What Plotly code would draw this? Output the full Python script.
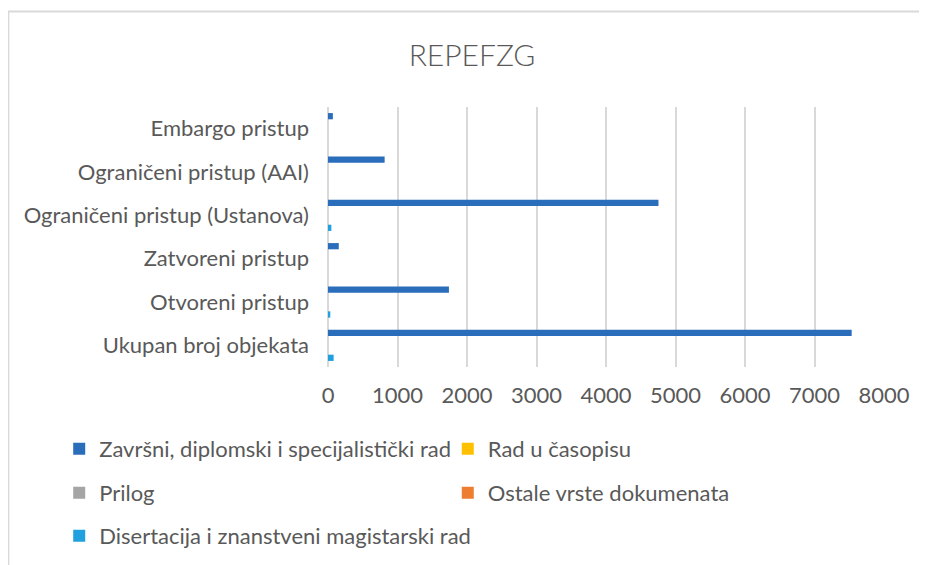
import plotly.graph_objects as go

title_text = "REPEFZG"
categories = [
    "Ukupan broj objekata",
    "Otvoreni pristup",
    "Zatvoreni pristup",
    "Ograničeni pristup (Ustanova)",
    "Ograničeni pristup (AAI)",
    "Embargo pristup",
]
series_names = [
    "Završni, diplomski i specijalistički rad",
    "Rad u časopisu",
    "Prilog",
    "Ostale vrste dokumenata",
    "Disertacija i znanstveni magistarski rad",
]
zavrsni = [7535, 1740, 155, 4755, 815, 70]
rad_u_casopisu = [0, 0, 0, 0, 0, 0]
prilog = [0, 0, 0, 0, 0, 0]
ostale = [0, 0, 0, 0, 0, 0]
disertacija = [81, 33, 0, 48, 0, 0]
x_ticks = [0, 1000, 2000, 3000, 4000, 5000, 6000, 7000, 8000]

series_values = [zavrsni, rad_u_casopisu, prilog, ostale, disertacija]
colors = ["#2A6EBB", "#FFC000", "#A5A5A5", "#ED7D31", "#21A0DF"]

OFF = 8  # page body margin
W, H = 927, 565
# desired screen positions of the plot area
SX0, SX1, SY0, SY1 = 328.4, 883.6, 107, 367
ML, MT = SX0 - OFF, SY0 - OFF
MR, MB = W - (SX1 - OFF), H - (SY1 - OFF)
PW, PH = W - ML - MR, H - MT - MB

def px_x(p):
    return (p - OFF - ML) / PW

def px_y(p):
    return (H - MB - (p - OFF)) / PH

# legend slots: (left px, centre y px) in screen coordinates
leg_pos = [(60, 449), (448, 449), (60, 493), (448, 493), (60, 536)]
legend_ids = ["legend", "legend2", "legend3", "legend4", "legend5"]

FONT = "Lato, Liberation Sans, sans-serif"
TXT = "#595959"

fig = go.Figure()
# add in reverse so the first series sits on top of each group
for i in reversed(range(len(series_names))):
    fig.add_trace(go.Bar(
        y=categories, x=series_values[i], name=series_names[i],
        orientation="h", marker=dict(color=colors[i], line=dict(width=0)),
        legend=legend_ids[i],
    ))

layout_legends = {}
for i, lid in enumerate(legend_ids):
    lx, ly = leg_pos[i]
    layout_legends[lid] = dict(
        x=px_x(lx), y=px_y(ly), xanchor="left", yanchor="middle",
        orientation="h", bgcolor="rgba(0,0,0,0)",
        font=dict(family=FONT, size=22, color=TXT),
    )

fig.update_layout(
    width=W, height=H,
    margin=dict(l=ML, r=MR, t=MT, b=MB),
    paper_bgcolor="white", plot_bgcolor="white",
    barmode="group", bargap=0.28, bargroupgap=0,
    showlegend=True,
    title=dict(text=title_text, x=(472 - OFF) / W, xanchor="center",
               y=1 - (55 - OFF) / H, yanchor="middle",
               font=dict(family=FONT, size=30, color=TXT, weight=300)),
    xaxis=dict(range=[0, 8000], tickvals=x_ticks, showgrid=True,
               gridcolor="#D9D9D9", gridwidth=2, zeroline=True,
               zerolinecolor="#D9D9D9", zerolinewidth=2, showline=False,
               ticks="", ticklabelstandoff=13,
               tickfont=dict(family=FONT, size=22, color=TXT), fixedrange=True),
    yaxis=dict(type="category", categoryorder="array", categoryarray=categories,
               showgrid=False, zeroline=False, showline=False, ticks="",
               ticklabelstandoff=18,
               tickfont=dict(family=FONT, size=22, color=TXT), fixedrange=True),
    shapes=[dict(type="rect", xref="paper", yref="paper",
                 x0=px_x(9.2), x1=px_x(960), y0=px_y(600), y1=px_y(11.5),
                 line=dict(color="#D9D9D9", width=2), fillcolor="rgba(0,0,0,0)",
                 layer="below")],
    **layout_legends,
)

fig.write_html("out.html")
